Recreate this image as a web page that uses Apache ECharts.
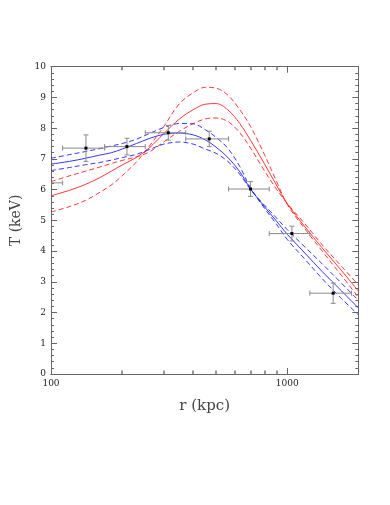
<!DOCTYPE html>
<html>
<head>
<meta charset="utf-8">
<script src="https://cdn.jsdelivr.net/npm/echarts@6/dist/echarts.min.js"></script>
<style>html,body{margin:0;padding:0;background:#fff;}#c{width:390px;height:505px;}</style>
</head>
<body>
<div id="c"></div>
<script>
// ---- data ----
const radii = [100,120,140,160,180,200,230,260,300,350,400,450,500,560,630,700,800,900,1000,1200,1400,1700,2000];
const redSolid = [5.80,5.98,6.17,6.38,6.60,6.80,7.05,7.35,7.82,8.30,8.60,8.78,8.80,8.60,8.15,7.60,6.85,6.15,5.55,4.75,4.12,3.36,2.70];
const redDashA = [5.27,5.45,5.65,5.90,6.15,6.45,6.90,7.40,8.05,8.80,9.15,9.33,9.30,9.08,8.60,8.05,7.15,6.28,5.52,4.68,4.02,3.20,2.50];
const redDashB = [6.26,6.45,6.60,6.73,6.85,6.95,7.07,7.22,7.55,7.90,8.15,8.30,8.33,8.22,7.85,7.35,6.62,6.02,5.55,4.85,4.22,3.50,2.90];
const blueSolid = [6.83,6.92,7.02,7.12,7.20,7.32,7.50,7.66,7.80,7.84,7.78,7.62,7.38,7.05,6.58,6.02,5.45,4.98,4.55,3.90,3.35,2.70,2.15];
const blueDashU = [7.02,7.14,7.24,7.33,7.42,7.50,7.64,7.82,8.02,8.15,8.14,7.95,7.70,7.35,6.75,6.05,5.40,4.88,4.38,3.70,3.12,2.45,1.93];
const blueDashL = [6.62,6.72,6.81,6.88,6.96,7.04,7.15,7.30,7.48,7.55,7.48,7.32,7.18,6.92,6.50,6.00,5.50,5.08,4.70,4.10,3.60,2.95,2.40];

const obsR    = [90, 140.6, 209.7, 313.8, 467.7, 699.6, 1047, 1565.6];
const obsT    = [6.22, 7.35, 7.40, 7.85, 7.65, 6.02, 4.57, 2.63];
const obsRLo  = [75, 112, 168.8, 250.7, 372, 564.7, 839.6, 1247];
const obsRHi  = [112, 168.8, 250.7, 372, 564.7, 839.6, 1247, 1873];
const obsTErr = [0.30, 0.43, 0.27, 0.24, 0.25, 0.24, 0.24, 0.33];

const xLabels = [100, 1000];
const xMinorTicks = [200,300,400,500,600,700,800,900];
const xMajorTicks = [1000];
const xMin = 100, xMax = 2000;
const yMin = 0, yMax = 10, yStep = 1;

// ---- chart ----
const chart = echarts.init(document.getElementById('c'));
const serif = 'DejaVu Serif';
const axisGrey = '#666';

function lineSeries(name, vals, color, dashed) {
  return {
    name, type:'line', xAxisIndex:0, yAxisIndex:0,
    data: radii.map((r,i)=>[r, vals[i]]),
    showSymbol:false, smooth:0.35, silent:true,
    lineStyle:{color, width:0.9, type: dashed ? [5,3] : 'solid'},
    z: 3
  };
}
function tickAxis(position, ticks, len, width, color) {
  return {
    type:'log', logBase:10, min:xMin, max:xMax, position,
    axisLine:{show:true, onZero:false, lineStyle:{color:axisGrey, width:1}},
    axisTick:{show:true, inside:true, length:len, customValues:ticks, lineStyle:{color:color, width:width}},
    axisLabel:{show:false}, splitLine:{show:false}
  };
}
function anchorSeries(axisIndex) {
  // invisible copy so every tick axis carries the same scale
  return {type:'line', xAxisIndex:axisIndex, yAxisIndex:0, silent:true, showSymbol:false,
          data: radii.map((r,i)=>[r, blueSolid[i]]), lineStyle:{opacity:0}, z:0};
}

const errData = obsR.map((r,i)=>[r, obsT[i], obsRLo[i], obsRHi[i], obsTErr[i]]);

const option = {
  animation:false,
  backgroundColor:'#fff',
  grid:{left:51, right:31.7, top:66.7, bottom:131, containLabel:false},
  xAxis:[{
    type:'log', logBase:10, min:xMin, max:xMax, position:'bottom',
    name:'r (kpc)', nameLocation:'middle', nameGap:25,
    nameTextStyle:{fontFamily:serif, fontSize:15, color:'#444'},
    axisLine:{show:true, onZero:false, lineStyle:{color:axisGrey, width:1}},
    axisTick:{show:true, inside:true, length:6, customValues:xMajorTicks, lineStyle:{color:axisGrey}},
    axisLabel:{show:true, fontFamily:serif, fontSize:9, color:'#222', margin:5,
      customValues:xLabels, formatter:(v)=>String(Math.round(v))},
    splitLine:{show:false}, minorTick:{show:false}
  },
    tickAxis('bottom', xMinorTicks, 3.5, 1.5, '#777'),
    tickAxis('top', xMajorTicks, 6, 1, axisGrey),
    tickAxis('top', xMinorTicks, 3.5, 1.5, '#777')
  ],
  yAxis:[{
    type:'value', min:yMin, max:yMax, interval:yStep, position:'left',
    name:'T (keV)', nameLocation:'middle', nameGap:27, nameRotate:90,
    nameTextStyle:{fontFamily:serif, fontSize:14, color:'#444'},
    axisLine:{show:true, onZero:false, lineStyle:{color:axisGrey, width:1}},
    axisTick:{show:true, inside:true, length:6, lineStyle:{color:axisGrey}},
    minorTick:{show:true, splitNumber:5, length:3, lineStyle:{color:axisGrey}},
    axisLabel:{fontFamily:serif, fontSize:9, color:'#222', margin:5},
    splitLine:{show:false}
  },{
    type:'value', min:yMin, max:yMax, interval:yStep, position:'right',
    axisLine:{show:true, onZero:false, lineStyle:{color:axisGrey, width:1}},
    axisTick:{show:true, inside:true, length:6, lineStyle:{color:axisGrey}},
    minorTick:{show:true, splitNumber:5, length:3, lineStyle:{color:axisGrey}},
    axisLabel:{show:false}, splitLine:{show:false}
  }],
  series:[
    lineSeries('red model', redSolid, '#ff2020', false),
    lineSeries('red A', redDashA, '#ff2020', true),
    lineSeries('red B', redDashB, '#ff2020', true),
    lineSeries('blue model', blueSolid, '#2020ff', false),
    lineSeries('blue U', blueDashU, '#2020ff', true),
    lineSeries('blue L', blueDashL, '#2020ff', true),
    anchorSeries(1), anchorSeries(2), anchorSeries(3),
    {
      type:'custom', xAxisIndex:0, yAxisIndex:0, silent:true, z:5, clip:false,
      data: errData,
      renderItem:(params, api)=>{
        const cs = params.coordSys;
        const r = api.value(0), t = api.value(1), rlo = api.value(2), rhi = api.value(3), te = api.value(4);
        const p = api.coord([r, t]);
        const pl = api.coord([rlo, t]);
        const ph = api.coord([rhi, t]);
        const pu = api.coord([r, t + te]);
        const pd = api.coord([r, t - te]);
        const x0 = cs.x, x1 = cs.x + cs.width;
        const inside = x => x >= x0 - 0.01 && x <= x1 + 0.01;
        const cx = x => Math.max(x0, Math.min(x1, x));
        const st = {stroke:'#8a8a8a', lineWidth:1};
        const ch = [];
        const a = cx(pl[0]), b = cx(ph[0]);
        if (b > a) ch.push({type:'line', shape:{x1:a, y1:p[1], x2:b, y2:p[1]}, style:st});
        const cap = 2.5;
        if (inside(pl[0])) ch.push({type:'line', shape:{x1:pl[0], y1:p[1]-cap, x2:pl[0], y2:p[1]+cap}, style:st});
        if (inside(ph[0])) ch.push({type:'line', shape:{x1:ph[0], y1:p[1]-cap, x2:ph[0], y2:p[1]+cap}, style:st});
        if (inside(p[0])) {
          ch.push({type:'line', shape:{x1:p[0], y1:pu[1], x2:p[0], y2:pd[1]}, style:st});
          ch.push({type:'line', shape:{x1:p[0]-cap, y1:pu[1], x2:p[0]+cap, y2:pu[1]}, style:st});
          ch.push({type:'line', shape:{x1:p[0]-cap, y1:pd[1], x2:p[0]+cap, y2:pd[1]}, style:st});
          ch.push({type:'rect', shape:{x:p[0]-1.5, y:p[1]-1.5, width:3, height:3}, style:{fill:'#000'}});
        }
        return {type:'group', children:ch};
      }
    }
  ]
};
chart.setOption(option);
</script>
</body>
</html>
